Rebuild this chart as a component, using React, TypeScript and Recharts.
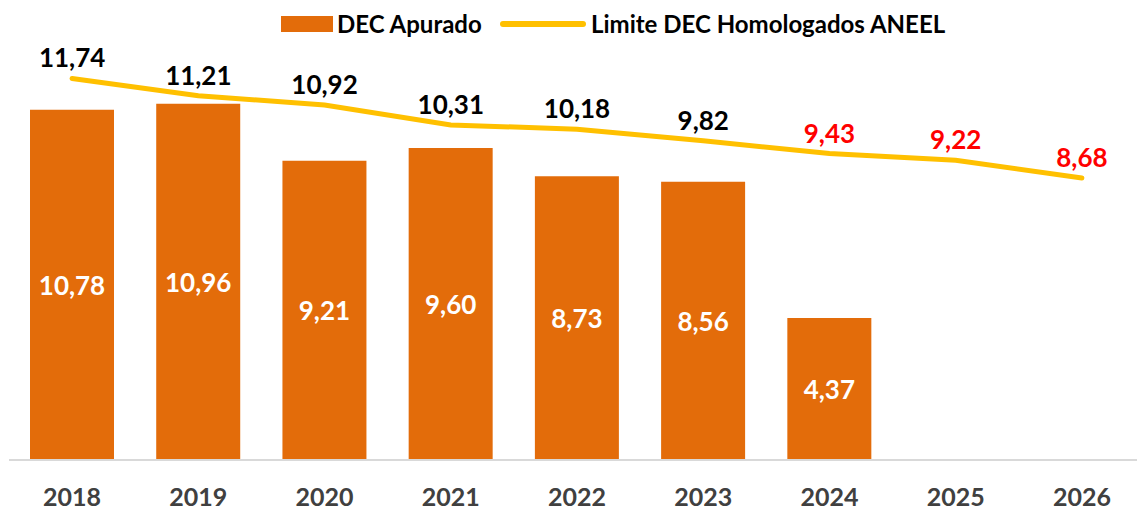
import React from 'react';
import { ComposedChart, Bar, Line, XAxis, YAxis, LabelList } from 'recharts';

const years = ['2018', '2019', '2020', '2021', '2022', '2023', '2024', '2025', '2026'];
const decApurado: (number | null)[] = [10.78, 10.96, 9.21, 9.6, 8.73, 8.56, 4.37, null, null];
const limiteAneel = [11.74, 11.21, 10.92, 10.31, 10.18, 9.82, 9.43, 9.22, 8.68];
const lastClosedYear = 2023;

const data = years.map((y, i) => ({ year: y, dec: decApurado[i], limite: limiteAneel[i] }));

const FONT = 'Lato, "Open Sans", sans-serif';
const BAR_COLOR = '#E36C0A';
const LINE_COLOR = '#FFC000';

const fmt = (v: number) => v.toFixed(2).replace('.', ',');

const BarLabel = (props: any) => {
  const { x, y, width, height, value } = props;
  if (value == null) return null;
  return (
    <text x={x + width / 2} y={y + height / 2} dy={10} textAnchor="middle" fill="#FFFFFF"
      fontFamily={FONT} fontWeight={700} fontSize={26}>
      {fmt(value)}
    </text>
  );
};

const LineLabel = (props: any) => {
  const { x, y, value, index } = props;
  if (value == null) return null;
  const red = Number(years[index]) > lastClosedYear;
  return (
    <text x={x} y={y - 11} textAnchor="middle" fill={red ? '#FF0000' : '#000000'}
      fontFamily={FONT} fontWeight={700} fontSize={26}>
      {fmt(value)}
    </text>
  );
};

const XTick = (props: any) => {
  const { x, payload } = props;
  return (
    <text x={x} y={506} textAnchor="middle" fill="#404040" fontFamily={FONT} fontWeight={700} fontSize={25}>
      {payload.value}
    </text>
  );
};

export default function App() {
  return (
    <div style={{ position: 'absolute', left: 0, top: 0, width: 1137, height: 514, overflow: 'hidden', background: '#fff' }}>
      <ComposedChart width={1146} height={514} data={data} margin={{ top: 5, right: 1, left: 9, bottom: 0 }}>
        <XAxis dataKey="year" axisLine={{ stroke: '#D9D9D9', strokeWidth: 2 }} tickLine={false} height={54}
          tick={<XTick />} interval={0} />
        <YAxis hide domain={[0, 14]} />
        <Bar dataKey="dec" fill={BAR_COLOR} barSize={84} isAnimationActive={false}>
          <LabelList dataKey="dec" content={<BarLabel />} />
        </Bar>
        <Line dataKey="limite" type="linear" stroke={LINE_COLOR} strokeWidth={5} dot={false}
          strokeLinecap="round" isAnimationActive={false}>
          <LabelList dataKey="limite" content={<LineLabel />} />
        </Line>
      </ComposedChart>
      <div style={{ position: 'absolute', left: 0, top: 8, width: 1137, height: 32, fontFamily: FONT, fontWeight: 700, fontSize: 24, color: '#000' }}>
        <div style={{ position: 'absolute', left: 281, top: 8, width: 52, height: 16, background: BAR_COLOR }} />
        <div style={{ position: 'absolute', left: 337, top: 0, lineHeight: '32px', whiteSpace: 'nowrap' }}>DEC Apurado</div>
        <div style={{ position: 'absolute', left: 500, top: 13, width: 86, height: 6, borderRadius: 3, background: LINE_COLOR }} />
        <div style={{ position: 'absolute', left: 591, top: 0, lineHeight: '32px', whiteSpace: 'nowrap' }}>Limite DEC Homologados ANEEL</div>
      </div>
    </div>
  );
}
